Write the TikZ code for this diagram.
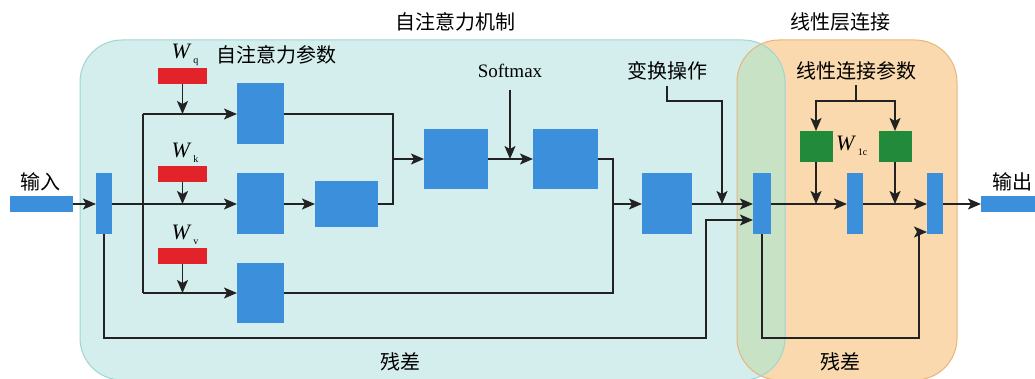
\documentclass[tikz,border=0pt]{standalone}
\usepackage{fontspec}
\setmainfont{Liberation Serif}
\newfontfamily\cjk{Noto Sans CJK SC}
\usetikzlibrary{arrows.meta}
\definecolor{boxblue}{HTML}{3B8FDB}
\definecolor{wred}{HTML}{E2232A}
\definecolor{wgreen}{HTML}{218B3B}
\definecolor{cyanfill}{HTML}{D4EEEE}
\definecolor{cyanline}{HTML}{9ED6D4}
\definecolor{orfill}{HTML}{FAD9AE}
\definecolor{orline}{HTML}{E8B57A}
\definecolor{overlapfill}{HTML}{C8E2C6}
\definecolor{linec}{HTML}{222222}
\begin{document}
\begin{tikzpicture}[x=1pt,y=-1pt,
  blk/.style={fill=boxblue, inner sep=0pt, outer sep=0pt},
  wbox/.style={fill=wred, inner sep=0pt, outer sep=0pt, minimum width=49pt, minimum height=16pt},
  gbox/.style={fill=wgreen, inner sep=0pt, outer sep=0pt, minimum width=33pt, minimum height=31pt},
  conn/.style={draw=linec, line width=1.7pt},
  arr/.style={conn, -{Stealth[length=13pt,width=11pt,inset=3pt]}},
  cn/.style={font=\cjk\fontsize{20}{22}\selectfont, inner sep=0pt, text=black},
  lat/.style={font=\fontsize{19}{21}\selectfont, inner sep=0pt, text=black},
  wl/.style={font=\fontsize{22}{24}\selectfont, inner sep=0pt, text=black}]
\useasboundingbox (0,0) rectangle (1035,379);
% regions
\path[fill=orfill] (737,40) [rounded corners=42pt] rectangle (957,380);
\path[fill=cyanfill] (80,40) [rounded corners=42pt] rectangle (785,380);
\begin{scope}
  \clip (737,40) [rounded corners=42pt] rectangle (957,380);
  \path[fill=overlapfill] (80,40) [rounded corners=42pt] rectangle (785,380);
\end{scope}
\draw[orline, line width=1pt] (737,40) [rounded corners=42pt] rectangle (957,380);
\draw[cyanline, line width=1pt] (80,40) [rounded corners=42pt] rectangle (785,380);

% titles
\node[cn] (t1) at (455,22) {自注意力机制};
\node[cn] (t2) at (840,22) {线性层连接};
\node[cn] (t3) at (276,55) {自注意力参数};
\node[cn] (tin) at (40,182) {输入};
\node[cn] (tout) at (1012,182) {输出};
\node[cn] (res1) at (400,362) {残差};
\node[cn] (res2) at (840,362) {残差};
\node[lat] (smx) at (510,71) {Softmax};
\node[cn] (bh) at (667,71) {变换操作};
\node[cn] (lc) at (856,71) {线性连接参数};
\node[wl] (lq) at (185,55) {\textit{W}\raisebox{-5pt}{\fontsize{10}{10}\selectfont\,q}};
\node[wl] (lk) at (185,153) {\textit{W}\raisebox{-5pt}{\fontsize{10}{10}\selectfont\,k}};
\node[wl] (lv) at (185,235) {\textit{W}\raisebox{-5pt}{\fontsize{10}{10}\selectfont\,v}};
\node[wl, anchor=west] (llc) at (836,146) {\textit{W}\raisebox{-5pt}{\fontsize{10}{10}\selectfont\,1c}};

% blocks
\node[blk, minimum width=63pt, minimum height=16pt] (in) at (41.5,204) {};
\node[blk, minimum width=16pt, minimum height=61pt] (bar1) at (104,204) {};
\node[blk, minimum width=47pt, minimum height=61pt] (Q) at (260.5,114) {};
\node[blk, minimum width=47pt, minimum height=61pt] (K) at (260.5,204) {};
\node[blk, minimum width=63pt, minimum height=46pt] (K2) at (346.5,204) {};
\node[blk, minimum width=47pt, minimum height=60pt] (V) at (260.5,293) {};
\node[blk, minimum width=64pt, minimum height=60pt] (QK) at (456,159) {};
\node[blk, minimum width=65pt, minimum height=60pt] (S) at (565.5,159) {};
\node[blk, minimum width=50pt, minimum height=61pt] (O) at (667,204) {};
\node[blk, minimum width=18pt, minimum height=61pt] (bar2) at (762,204) {};
\node[blk, minimum width=16pt, minimum height=61pt] (bar3) at (855,204) {};
\node[blk, minimum width=16pt, minimum height=61pt] (bar4) at (935,204) {};
\node[blk, minimum width=60pt, minimum height=16pt] (out) at (1011,204) {};
\node[wbox] (Wq) at (182.5,76) {};
\node[wbox] (Wk) at (182.5,174) {};
\node[wbox] (Wv) at (182.5,256) {};
\node[gbox] (G1) at (816,146.5) {};
\node[gbox] (G2) at (895,146.5) {};

% junctions
\coordinate (jq) at (143,114);
\coordinate (jv) at (143,293);
\coordinate (m1) at (393,159);
\coordinate (m2) at (613,204);
\coordinate (m3) at (722,101);
\coordinate (r1) at (706,338);
\coordinate (r1b) at (706,220);
\coordinate (r2) at (919,338);
\coordinate (r2b) at (919,232);
\coordinate (lp) at (856,101);

% connectors
\draw[arr] (in) -- (bar1);
\draw[arr] (bar1) -- (K);
\draw[conn] (jq) -- (jv);
\draw[arr] (jq) -- (Q);
\draw[arr] (jv) -- (V);
\draw[arr] (Wq) -- (Wq |- jq);
\draw[arr] (Wk) -- (Wk |- K.west);
\draw[arr] (Wv) -- (Wv |- jv);
\draw[arr] (K) -- (K2);
\draw[conn] (Q.east) -| (m1);
\draw[conn] (K2.east) -| (m1);
\draw[arr] (m1) -- (QK.west);
\draw[arr] ([yshift=-12pt]smx.south) -- (smx.south |- S.west);
\draw[arr] (QK) -- (S);
\draw[conn] (S.east) -| (m2);
\draw[conn] (V.east) -| (m2);
\draw[arr] (m2) -- (O.west);
\draw[arr] (O) -- (bar2);
\draw[arr] ([yshift=-5pt]bh.south) |- (m3) -- (m3 |- bar2.west);
\draw[arr] (bar1.south) |- (r1) -- (r1b) -- (r1b -| bar2.west);
\draw[arr] (bar2.south) |- (r2) -- (r2b) -- (r2b -| bar4.west);
\draw[conn] ([yshift=-5pt]lc.south) -- (lp);
\draw[arr] (lp) -| (G1.north);
\draw[arr] (lp) -| (G2.north);
\draw[arr] (G1.south) -- (G1.south |- bar3.west);
\draw[arr] (G2.south) -- (G2.south |- bar4.west);
\draw[arr] (bar2) -- (bar3);
\draw[arr] (bar3) -- (bar4);
\draw[arr] (bar4) -- (out);
\end{tikzpicture}
\end{document}
